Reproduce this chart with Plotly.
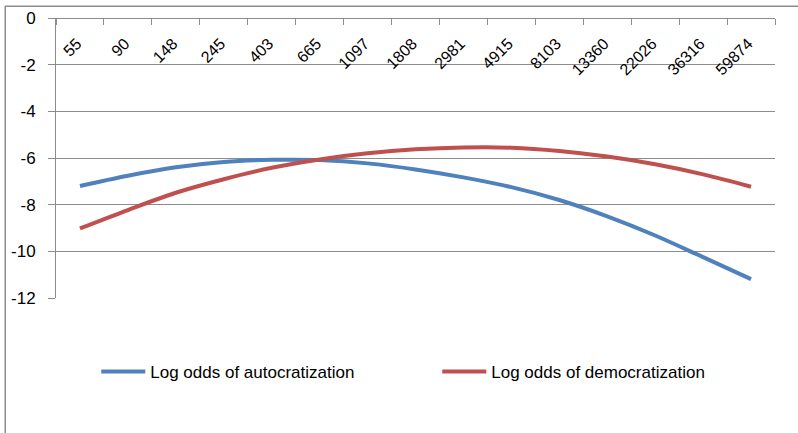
import plotly.graph_objects as go

categories = ["55", "90", "148", "245", "403", "665", "1097", "1808", "2981",
              "4915", "8103", "13360", "22026", "36316", "59874"]
autocratization = [-7.20, -6.76, -6.40, -6.17, -6.08, -6.09, -6.23, -6.49, -6.83,
                   -7.25, -7.80, -8.50, -9.32, -10.25, -11.19]
democratization = [-9.02, -8.23, -7.49, -6.91, -6.42, -6.06, -5.80, -5.63, -5.55,
                   -5.56, -5.70, -5.94, -6.27, -6.70, -7.23]
y_ticks = [0, -2, -4, -6, -8, -10, -12]

FONT = "Liberation Sans Narrow, Liberation Sans, Arial, sans-serif"
GRID = "#8c8c8c"

fig = go.Figure()
fig.add_trace(go.Scatter(x=categories, y=autocratization, mode="lines",
                         name="Log odds of autocratization",
                         line=dict(color="#4F81BD", width=4, shape="spline")))
fig.add_trace(go.Scatter(x=categories, y=democratization, mode="lines",
                         name="Log odds of democratization",
                         line=dict(color="#C0504D", width=4, shape="spline")))

top_y = (298 - 6) / 280
left_x = (5 - 56) / 719

fig.update_layout(
    width=798, height=433,
    margin=dict(l=56, r=23, t=18, b=135, autoexpand=False),
    paper_bgcolor="white", plot_bgcolor="white",
    font=dict(family=FONT, size=16, color="black"),
    showlegend=True,
    legend=dict(orientation="h", x=0.056, y=-0.2, xanchor="left", yanchor="top",
                entrywidth=282, entrywidthmode="pixels",
                font=dict(family=FONT, size=17, color="black"),
                itemwidth=44, tracegroupgap=0, bgcolor="rgba(0,0,0,0)"),
    xaxis=dict(type="category", side="bottom", anchor="free", position=1.0,
               automargin=False,
               showline=True, linecolor=GRID, linewidth=1,
               ticks="outside", ticklen=6, tickcolor=GRID, tickson="boundaries",
               tickangle=-45, showgrid=False, zeroline=False,
               ticklabelstandoff=9, ticklabelshift=-3,
               tickfont=dict(family=FONT, size=16, color="black"),
               range=[-0.5, 14.5], fixedrange=True),
    yaxis=dict(range=[-12, 0], tickvals=y_ticks, ticktext=[str(v) for v in y_ticks],
               automargin=False,
               showline=True, linecolor=GRID, linewidth=1,
               ticks="outside", ticklen=7, tickcolor=GRID,
               showgrid=True, gridcolor=GRID, gridwidth=1, zeroline=False,
               ticklabelstandoff=9,
               tickfont=dict(family=FONT, size=17, color="black")),
    shapes=[
        dict(type="line", xref="paper", yref="paper",
             x0=left_x, x1=1.1, y0=top_y, y1=top_y,
             line=dict(color="#8c8c8c", width=1), layer="above"),
        dict(type="line", xref="paper", yref="paper",
             x0=left_x, x1=left_x, y0=-1, y1=top_y,
             line=dict(color="#8c8c8c", width=1), layer="above"),
    ],
    annotations=[dict(xref="paper", yref="paper", x=left_x, y=top_y,
                      xanchor="left", yanchor="top", text=" ", showarrow=False,
                      width=900, height=500, bordercolor="#8c8c8c", borderwidth=1,
                      borderpad=0, bgcolor="rgba(0,0,0,0)")],
)

fig.write_html("out.html", config={"displayModeBar": False},
               post_script="document.body.style.margin='0';")
